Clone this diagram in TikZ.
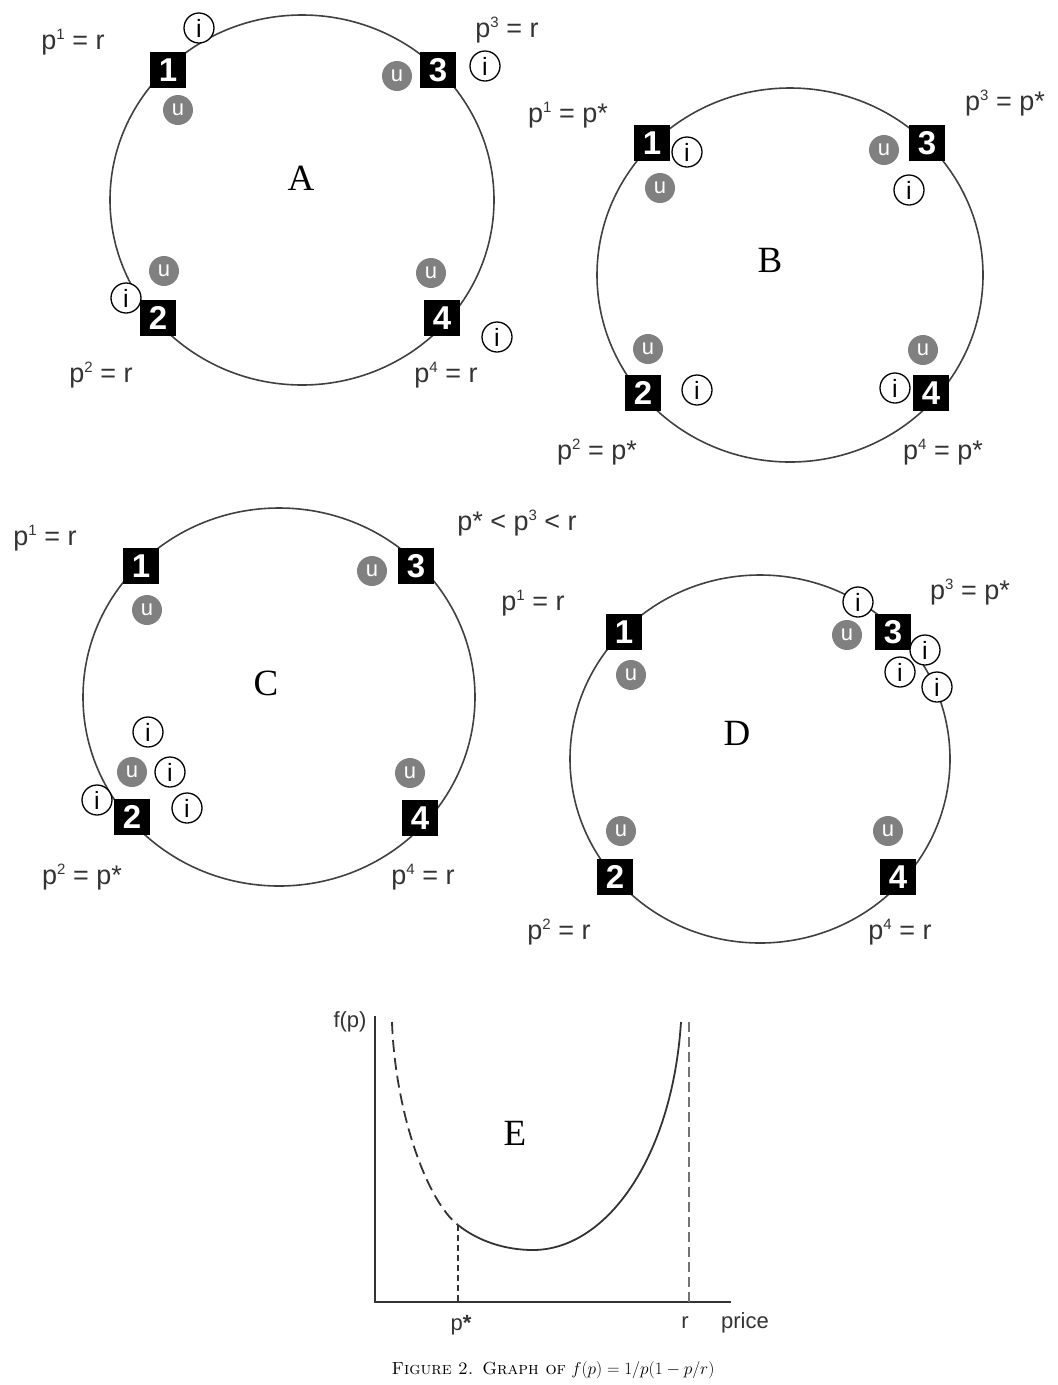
\documentclass[tikz,border=0pt]{standalone}
\usepackage{fontspec}
\newfontfamily\labfont{Liberation Sans}
\newfontfamily\serfont{Liberation Serif}
\usetikzlibrary{shapes.geometric}
\newcommand\supnum[1]{\raisebox{0.36em}{\fontsize{15}{15}\selectfont #1}}
\begin{document}
\begin{tikzpicture}[x=1pt,y=-1pt,
  ring/.style={draw=black!75, line width=1.6pt, ellipse, inner sep=0pt},
  firm/.style={fill=black, text=white, minimum size=36pt, inner sep=0pt, font=\labfont\bfseries\fontsize{33}{33}\selectfont},
  uninf/.style={circle, fill=black!50, text=white, minimum size=30pt, inner sep=0pt, font=\labfont\fontsize{22}{22}\selectfont},
  inf/.style={circle, draw=black, fill=white, line width=1.3pt, minimum size=30pt, inner sep=0pt, font=\labfont\fontsize{25}{25}\selectfont},
  plab/.style={text=black!80, inner sep=0pt, font=\labfont\fontsize{27}{30}\selectfont},
  panel/.style={inner sep=0pt, font=\serfont\fontsize{37}{37}\selectfont},
  axis/.style={draw=black!80, line width=2pt},
  curve/.style={draw=black!80, line width=1.8pt},
  glab/.style={text=black!80, inner sep=0pt, font=\labfont\fontsize{22}{24}\selectfont},
]
\useasboundingbox (0,0) rectangle (1058,1385);

% ---------- Panel A ----------
\node[ring, minimum width=384pt, minimum height=370pt] (ringA) at (302,200) {};
\node[firm] (a1) at (168,70) {1};
\node[firm] (a3) at (438,70) {3};
\node[firm] (a2) at (158,318) {2};
\node[firm] (a4) at (442,318) {4};
\node[uninf] (au1) at (178,110) {u};
\node[uninf] (au3) at (397,76) {u};
\node[uninf] (au2) at (164,271) {u};
\node[uninf] (au4) at (431,273) {u};
\node[inf] (ai1) at (199,28) {i};
\node[inf] (ai3) at (485,66) {i};
\node[inf] (ai2) at (126,298) {i};
\node[inf] (ai4) at (497,337) {i};
\node[plab] (la1) at (73,42) {p\supnum{1} = r};
\node[plab] (la3) at (507,30) {p\supnum{3} = r};
\node[plab] (la2) at (101,375) {p\supnum{2} = r};
\node[plab] (la4) at (446,375) {p\supnum{4} = r};
\node[panel] (pA) at (301,178) {A};

% ---------- Panel B ----------
\node[ring, minimum width=386pt, minimum height=374pt] (ringB) at (790,275) {};
\node[firm] (b1) at (652,143) {1};
\node[firm] (b3) at (927,143) {3};
\node[firm] (b2) at (643,393) {2};
\node[firm] (b4) at (931,393) {4};
\node[uninf] (bu1) at (660,188) {u};
\node[uninf] (bu3) at (884,150) {u};
\node[uninf] (bu2) at (648,349) {u};
\node[uninf] (bu4) at (923,350) {u};
\node[inf] (bi1) at (687,152) {i};
\node[inf] (bi3) at (909,190) {i};
\node[inf] (bi2) at (697,390) {i};
\node[inf] (bi4) at (895,388) {i};
\node[plab] (lb1) at (568,115) {p\supnum{1} = p*};
\node[plab] (lb3) at (1005,103) {p\supnum{3} = p*};
\node[plab] (lb2) at (597,452) {p\supnum{2} = p*};
\node[plab] (lb4) at (943,452) {p\supnum{4} = p*};
\node[panel] (pB) at (770,260) {B};

% ---------- Panel C ----------
\node[ring, minimum width=392pt, minimum height=378pt] (ringC) at (279,697) {};
\node[firm] (c1) at (141,566) {1};
\node[firm] (c3) at (416,566) {3};
\node[firm] (c2) at (132,817) {2};
\node[firm] (c4) at (420,818) {4};
\node[uninf] (cu1) at (147,610) {u};
\node[uninf] (cu3) at (372,571) {u};
\node[uninf] (cu2) at (132,772) {u};
\node[uninf] (cu4) at (410,773) {u};
\node[inf] (ci1) at (148,732) {i};
\node[inf] (ci2) at (170,772) {i};
\node[inf] (ci3) at (97,800) {i};
\node[inf] (ci4) at (187,808) {i};
\node[plab] (lc1) at (45,538) {p\supnum{1} = r};
\node[plab] (lc3) at (517,523) {p* < p\supnum{3} < r};
\node[plab] (lc2) at (82,877) {p\supnum{2} = p*};
\node[plab] (lc4) at (423,877) {p\supnum{4} = r};
\node[panel] (pC) at (266,683) {C};

% ---------- Panel D ----------
\node[ring, minimum width=380pt, minimum height=368pt] (ringD) at (760,759) {};
\node[firm] (d1) at (624,632) {1};
\node[firm] (d3) at (893,632) {3};
\node[firm] (d2) at (615,877) {2};
\node[firm] (d4) at (898,877) {4};
\node[uninf] (du1) at (631,675) {u};
\node[uninf] (du3) at (847,635) {u};
\node[uninf] (du2) at (621,831) {u};
\node[uninf] (du4) at (888,831) {u};
\node[inf] (di1) at (858,602) {i};
\node[inf] (di2) at (925,650) {i};
\node[inf] (di3) at (900,672) {i};
\node[inf] (di4) at (937,687) {i};
\node[plab] (ld1) at (533,603) {p\supnum{1} = r};
\node[plab] (ld3) at (970,592) {p\supnum{3} = p*};
\node[plab] (ld2) at (559,932) {p\supnum{2} = r};
\node[plab] (ld4) at (900,932) {p\supnum{4} = r};
\node[panel] (pD) at (737,733) {D};

% ---------- Panel E ----------
\coordinate (O) at (375,1302);
\coordinate (ytop) at (375,1016);
\coordinate (xend) at (731,1302);
\coordinate (ltop) at (392,1022);
\coordinate (ps) at (458,1225);
\coordinate (psb) at (458,1302);
\coordinate (fmin) at (533,1250);
\coordinate (rtopc) at (681,1022);
\coordinate (rtop) at (689,1022);
\coordinate (rbot) at (689,1302);
\draw[axis] (ytop) -- (O) -- (xend);
\draw[curve, dash pattern=on 12pt off 6pt] (ltop) .. controls (395,1110) and (426,1200) .. (ps);
\draw[curve] (ps) .. controls (478,1241) and (505,1250) .. (fmin)
  .. controls (605,1250) and (672,1160) .. (rtopc);
\draw[curve, line width=1.6pt, dash pattern=on 6pt off 4pt] (ps) -- (psb);
\draw[curve, draw=black!55, line width=1.6pt, dash pattern=on 10pt off 5pt] (rtop) -- (rbot);
\node[glab] (fp) at (350,1022) {f(p)};
\node[glab] (pstar) at (461,1325) {p{\bfseries *}};
\node[glab] (rl) at (685,1323) {r};
\node[glab] (price) at (745,1323) {price};
\node[panel] (pE) at (515,1133) {E};
\node[inner sep=0pt, font=\fontsize{17.5}{19}\selectfont] (cap) at (553,1370) {\textsc{Figure 2. Graph of} $f(p)=1/p(1-p/r)$};
\end{tikzpicture}
\end{document}
